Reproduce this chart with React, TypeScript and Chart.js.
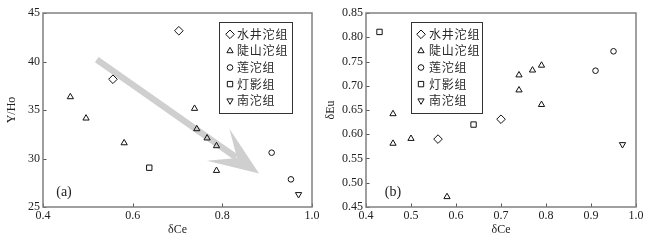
import React, { useEffect, useRef } from 'react';
import { Chart, registerables } from 'chart.js';

Chart.register(...registerables);

// ---------- DATA ----------
const seriesNames = ['水井沱组', '陡山沱组', '莲沱组', '灯影组', '南沱组'];

// Panel (a): δCe vs Y/Ho
const aShuijingX = [0.703, 0.556];
const aShuijingY = [43.17, 38.17];
const aDoushanX = [0.461, 0.496, 0.581, 0.738, 0.743, 0.766, 0.787, 0.787];
const aDoushanY = [36.35, 34.15, 31.6, 35.15, 33.05, 32.1, 31.3, 28.75];
const aLianX = [0.91, 0.953];
const aLianY = [30.6, 27.85];
const aDengyingX = [0.637];
const aDengyingY = [29.05];
const aNantuoX = [0.97];
const aNantuoY = [26.3];

// Panel (b): δCe vs δEu
const bShuijingX = [0.56, 0.7];
const bShuijingY = [0.59, 0.631];
const bDoushanX = [0.46, 0.46, 0.5, 0.58, 0.74, 0.74, 0.77, 0.79, 0.79];
const bDoushanY = [0.642, 0.581, 0.591, 0.471, 0.722, 0.691, 0.732, 0.742, 0.661];
const bLianX = [0.91, 0.95];
const bLianY = [0.731, 0.771];
const bDengyingX = [0.43, 0.639];
const bDengyingY = [0.811, 0.62];
const bNantuoX = [0.97];
const bNantuoY = [0.579];

// Trend arrow in panel (a), data coords [δCe, Y/Ho]
const arrowTail = [0.52, 40.2];
const arrowTip = [0.882, 28.45];

// ---------- HELPERS ----------
const zip = (xs: number[], ys: number[]) => xs.map((x, i) => ({ x, y: ys[i] }));

const markerStyles = [
  { pointStyle: 'rectRot', radius: 4.3, rotation: 0 },
  { pointStyle: 'triangle', radius: 3.6, rotation: 0 },
  { pointStyle: 'circle', radius: 2.8, rotation: 0 },
  { pointStyle: 'rect', radius: 3.8, rotation: 0 },
  { pointStyle: 'triangle', radius: 3.6, rotation: 180 },
];

function drawMarker(ctx: CanvasRenderingContext2D, style: string, rotationDeg: number, x: number, y: number, r: number) {
  ctx.beginPath();
  if (style === 'circle') {
    ctx.arc(x, y, r, 0, Math.PI * 2);
  } else if (style === 'triangle') {
    let rad = (rotationDeg * Math.PI) / 180;
    ctx.moveTo(x + Math.sin(rad) * r, y - Math.cos(rad) * r);
    rad += (2 * Math.PI) / 3;
    ctx.lineTo(x + Math.sin(rad) * r, y - Math.cos(rad) * r);
    rad += (2 * Math.PI) / 3;
    ctx.lineTo(x + Math.sin(rad) * r, y - Math.cos(rad) * r);
    ctx.closePath();
  } else if (style === 'rectRot') {
    ctx.moveTo(x, y - r);
    ctx.lineTo(x + r, y);
    ctx.lineTo(x, y + r);
    ctx.lineTo(x - r, y);
    ctx.closePath();
  } else if (style === 'rect') {
    const s = Math.SQRT1_2 * r;
    ctx.rect(x - s, y - s, 2 * s, 2 * s);
  }
  ctx.stroke();
}

const decorPlugin = {
  id: 'decor',
  beforeDatasetsDraw(chart: any, _args: any, opts: any) {
    if (!opts || !opts.arrow) return;
    const { ctx, scales } = chart;
    const tx = scales.x.getPixelForValue(opts.arrow.tail[0]);
    const ty = scales.y.getPixelForValue(opts.arrow.tail[1]);
    const px = scales.x.getPixelForValue(opts.arrow.tip[0]);
    const py = scales.y.getPixelForValue(opts.arrow.tip[1]);
    const dx = px - tx, dy = py - ty;
    const len = Math.hypot(dx, dy);
    const ux = dx / len, uy = dy / len;
    const nx = -uy, ny = ux;
    const P = (u: number, n: number) => [px + ux * u + nx * n, py + uy * u + ny * n];
    const hw = 3.2;
    const headLen = 50, headHalf = 19.5, notch = 27;
    ctx.save();
    ctx.fillStyle = '#cfcfcf';
    ctx.beginPath();
    let p = P(-len, -hw); ctx.moveTo(p[0], p[1]);
    p = P(-notch - 1, -hw); ctx.lineTo(p[0], p[1]);
    p = P(-notch - 1, hw); ctx.lineTo(p[0], p[1]);
    p = P(-len, hw); ctx.lineTo(p[0], p[1]);
    ctx.closePath();
    ctx.fill();
    ctx.beginPath();
    p = P(0, 0); ctx.moveTo(p[0], p[1]);
    p = P(-headLen, -headHalf); ctx.lineTo(p[0], p[1]);
    p = P(-notch, 0); ctx.lineTo(p[0], p[1]);
    p = P(-headLen, headHalf); ctx.lineTo(p[0], p[1]);
    ctx.closePath();
    ctx.fill();
    ctx.restore();
  },
  afterDraw(chart: any, _args: any, opts: any) {
    const { ctx, chartArea: ca, scales } = chart;
    ctx.save();
    // inward tick marks
    ctx.strokeStyle = '#555';
    ctx.lineWidth = 1;
    scales.y.ticks.forEach((t: any) => {
      const y = Math.round(scales.y.getPixelForValue(t.value)) + 0.5;
      ctx.beginPath();
      ctx.moveTo(ca.left, y);
      ctx.lineTo(ca.left + 3.5, y);
      ctx.stroke();
    });
    scales.x.ticks.forEach((t: any) => {
      const x = Math.round(scales.x.getPixelForValue(t.value)) + 0.5;
      ctx.beginPath();
      ctx.moveTo(x, ca.bottom);
      ctx.lineTo(x, ca.bottom - 3.5);
      ctx.stroke();
    });
    // frame
    ctx.strokeStyle = '#808080';
    ctx.lineWidth = 1.5;
    ctx.strokeRect(ca.left, ca.top, ca.right - ca.left, ca.bottom - ca.top);
    // legend
    if (opts && opts.legend) {
      const L = opts.legend;
      const bx = ca.left + L.dx, by = ca.top + L.dy;
      ctx.strokeStyle = '#333';
      ctx.lineWidth = 1;
      ctx.strokeRect(Math.round(bx) + 0.5, Math.round(by) + 0.5, L.w, L.h);
      chart.data.datasets.forEach((ds: any, i: number) => {
        const cy = by + L.firstRow + i * L.rowGap;
        ctx.strokeStyle = '#111';
        ctx.lineWidth = 1;
        drawMarker(ctx, ds.pointStyle, ds.pointRotation || 0, bx + L.markerX, cy, ds.pointRadius);
        ctx.fillStyle = '#2a2a2a';
        ctx.font = '12px "Noto Sans CJK SC"';
        ctx.textBaseline = 'middle';
        ctx.textAlign = 'left';
        const chars = ds.label.split('');
        let x = bx + L.textX;
        chars.forEach((c: string) => {
          ctx.fillText(c, x, cy);
          x += ctx.measureText(c).width + 0.8;
        });
      });
    }
    // panel label
    if (opts && opts.panel) {
      ctx.fillStyle = '#222';
      ctx.font = '14px "Liberation Serif"';
      ctx.textAlign = 'center';
      ctx.textBaseline = 'middle';
      ctx.fillText(opts.panel.text, ca.left + opts.panel.dx, ca.bottom - opts.panel.dy);
    }
    ctx.restore();
  },
};

const tickFont = { family: '"Liberation Serif"', size: 12 };
const textColor = '#222';

function makeDatasets(groups: { x: number[]; y: number[] }[]) {
  return groups.map((g, i) => ({
    label: seriesNames[i],
    data: zip(g.x, g.y),
    pointStyle: markerStyles[i].pointStyle,
    pointRadius: markerStyles[i].radius,
    pointRotation: markerStyles[i].rotation,
    pointBorderColor: '#111',
    pointBackgroundColor: 'rgba(0,0,0,0)',
    pointBorderWidth: 1,
    borderColor: '#111',
    backgroundColor: 'rgba(0,0,0,0)',
    showLine: false,
  }));
}

function makeConfig(p: {
  groups: { x: number[]; y: number[] }[];
  xStep: number; xDigits: number;
  yMin: number; yMax: number; yStep: number; yDigits: number;
  yTitle: string; yTitlePad: number; yWidth: number;
  decor: any;
}) {
  return {
    type: 'scatter' as const,
    data: { datasets: makeDatasets(p.groups) },
    options: {
      responsive: false,
      animation: false,
      layout: { padding: { left: 0, right: 12, top: 13, bottom: 0 } },
      plugins: {
        legend: { display: false },
        tooltip: { enabled: false },
        decor: p.decor,
      },
      scales: {
        x: {
          type: 'linear',
          min: 0.4,
          max: 1.0,
          ticks: {
            stepSize: p.xStep,
            font: tickFont,
            color: textColor,
            padding: 2,
            callback: (v: any) => Number(v).toFixed(p.xDigits),
          },
          grid: { display: false, drawTicks: false },
          border: { display: false },
          title: {
            display: true,
            text: 'δCe',
            font: tickFont,
            color: textColor,
            padding: { top: 0, bottom: 5 },
          },
          afterFit: (s: any) => { s.height = 35; },
        },
        y: {
          type: 'linear',
          min: p.yMin,
          max: p.yMax,
          ticks: {
            stepSize: p.yStep,
            font: tickFont,
            color: textColor,
            padding: 3,
            callback: (v: any) => Number(v).toFixed(p.yDigits),
          },
          grid: { display: false, drawTicks: false },
          border: { display: false },
          title: {
            display: true,
            text: p.yTitle,
            font: tickFont,
            color: textColor,
            padding: { top: p.yTitlePad, bottom: 0 },
          },
          afterFit: (s: any) => { s.width = p.yWidth; },
        },
      },
    },
    plugins: [decorPlugin],
  };
}

export default function App() {
  const refA = useRef<HTMLCanvasElement | null>(null);
  const refB = useRef<HTMLCanvasElement | null>(null);

  useEffect(() => {
    const cfgA = makeConfig({
      groups: [
        { x: aShuijingX, y: aShuijingY },
        { x: aDoushanX, y: aDoushanY },
        { x: aLianX, y: aLianY },
        { x: aDengyingX, y: aDengyingY },
        { x: aNantuoX, y: aNantuoY },
      ],
      xStep: 0.2, xDigits: 1,
      yMin: 25, yMax: 45, yStep: 5, yDigits: 0,
      yTitle: 'Y/Ho', yTitlePad: 5, yWidth: 43,
      decor: {
        arrow: { tail: arrowTail, tip: arrowTip },
        legend: { dx: 176, dy: 9, w: 73, h: 91, firstRow: 12.3, rowGap: 16.6, markerX: 11, textX: 18 },
        panel: { text: '(a)', dx: 21, dy: 15 },
      },
    });
    const cfgB = makeConfig({
      groups: [
        { x: bShuijingX, y: bShuijingY },
        { x: bDoushanX, y: bDoushanY },
        { x: bLianX, y: bLianY },
        { x: bDengyingX, y: bDengyingY },
        { x: bNantuoX, y: bNantuoY },
      ],
      xStep: 0.1, xDigits: 1,
      yMin: 0.45, yMax: 0.85, yStep: 0.05, yDigits: 2,
      yTitle: 'δEu', yTitlePad: 0, yWidth: 42,
      decor: {
        legend: { dx: 45, dy: 9, w: 71, h: 91, firstRow: 12.3, rowGap: 16.6, markerX: 10, textX: 18 },
        panel: { text: '(b)', dx: 27, dy: 15 },
      },
    });
    const ca = new Chart(refA.current as HTMLCanvasElement, cfgA as any);
    const cb = new Chart(refB.current as HTMLCanvasElement, cfgB as any);
    return () => {
      ca.destroy();
      cb.destroy();
    };
  }, []);

  return (
    <div style={{ position: 'absolute', left: 0, top: 0, width: 648, height: 242, background: '#fff' }}>
      <canvas ref={refA} width={324} height={242} style={{ position: 'absolute', left: 0, top: 0, width: 324, height: 242 }} />
      <canvas ref={refB} width={324} height={242} style={{ position: 'absolute', left: 324, top: 0, width: 324, height: 242 }} />
    </div>
  );
}
